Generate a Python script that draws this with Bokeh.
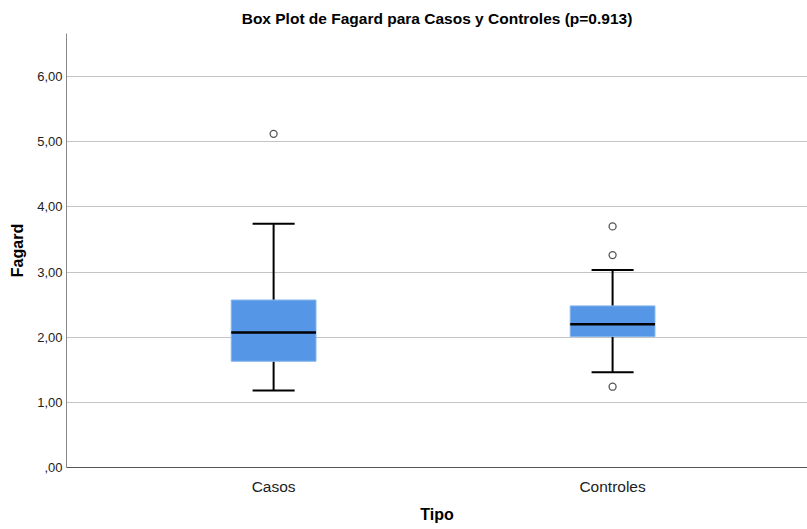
from bokeh.plotting import figure
from bokeh.models import Range1d, FixedTicker, ColumnDataSource
from bokeh.embed import file_html
from bokeh.resources import INLINE

# ---- data ----
categories = ["Casos", "Controles"]
q1 = [1.63, 2.01]
median = [2.07, 2.20]
q3 = [2.57, 2.48]
whisker_low = [1.18, 1.46]
whisker_high = [3.74, 3.03]
outlier_group = ["Casos", "Controles", "Controles", "Controles"]
outlier_value = [5.12, 3.70, 3.26, 1.24]
y_ticks = [0, 1, 2, 3, 4, 5, 6]
y_tick_labels = [",00", "1,00", "2,00", "3,00", "4,00", "5,00", "6,00"]
title_text = "Box Plot de Fagard para Casos y Controles (p=0.913)"
x_title = "Tipo"
y_title = "Fagard"

FONT = "Liberation Sans"
BOX_W = 0.25
CAP_W = 0.124

pos = [i + 1 for i in range(len(categories))]
src = ColumnDataSource(dict(
    x=pos, q1=q1, med=median, q3=q3, lo=whisker_low, hi=whisker_high,
    bl=[x - BOX_W / 2 for x in pos], br=[x + BOX_W / 2 for x in pos],
    cl=[x - CAP_W / 2 for x in pos], cr=[x + CAP_W / 2 for x in pos],
))
out_src = ColumnDataSource(dict(
    x=[categories.index(g) + 1 for g in outlier_group], y=outlier_value))

p = figure(width=807, height=529, output_backend="svg", toolbar_location=None,
           x_range=Range1d(0.389, 2.575), y_range=Range1d(0, 6.66),
           min_border_left=66, min_border_right=0, min_border_top=33,
           min_border_bottom=62)
p.outline_line_color = None
p.background_fill_color = "white"

p.title.text = title_text
p.title.align = "center"
p.title.text_font = FONT
p.title.text_font_size = "15.5px"
p.title.text_font_style = "bold"
p.title.text_color = "#000000"
p.title.standoff = 13

# whiskers
p.segment(x0="x", y0="q3", x1="x", y1="hi", source=src, line_color="black", line_width=2)
p.segment(x0="x", y0="lo", x1="x", y1="q1", source=src, line_color="black", line_width=2)
p.segment(x0="cl", y0="hi", x1="cr", y1="hi", source=src, line_color="black", line_width=2)
p.segment(x0="cl", y0="lo", x1="cr", y1="lo", source=src, line_color="black", line_width=2)
# boxes
p.vbar(x="x", width=BOX_W, bottom="q1", top="q3", source=src,
       fill_color="#5597e6", line_color="#86b5ee", line_width=1)
# medians
p.segment(x0="bl", y0="med", x1="br", y1="med", source=src, line_color="black", line_width=2.5)
# outliers
p.scatter(x="x", y="y", source=out_src, marker="circle", size=7,
          fill_color="white", line_color="#555555", line_width=1.3)

# axes
p.xgrid.visible = False
p.ygrid.ticker = FixedTicker(ticks=y_ticks[1:])
p.ygrid.grid_line_color = "#c4c4c4"
p.ygrid.grid_line_width = 1

p.yaxis.ticker = FixedTicker(ticks=y_ticks)
p.yaxis.major_label_overrides = {t: l for t, l in zip(y_ticks, y_tick_labels)}
p.yaxis.axis_label = y_title
p.yaxis.axis_label_text_font = FONT
p.yaxis.axis_label_text_font_size = "16px"
p.yaxis.axis_label_text_font_style = "bold"
p.yaxis.axis_label_text_color = "black"
p.yaxis.axis_label_standoff = 8
p.yaxis.major_label_text_font = FONT
p.yaxis.major_label_text_font_size = "13px"
p.yaxis.major_label_text_color = "#222222"
p.yaxis.major_label_standoff = 4
p.yaxis.axis_line_color = "#888888"

p.xaxis.ticker = FixedTicker(ticks=pos)
p.xaxis.major_label_overrides = {x: c for x, c in zip(pos, categories)}
p.xaxis.axis_label = x_title
p.xaxis.axis_label_text_font = FONT
p.xaxis.axis_label_text_font_size = "16px"
p.xaxis.axis_label_text_font_style = "bold"
p.xaxis.axis_label_text_color = "black"
p.xaxis.axis_label_standoff = 8
p.xaxis.major_label_text_font = FONT
p.xaxis.major_label_text_font_size = "15.5px"
p.xaxis.major_label_text_color = "#222222"
p.xaxis.major_label_standoff = 10
p.xaxis.axis_line_color = "#555555"

for ax in (p.xaxis, p.yaxis):
    ax.major_tick_in = 0
    ax.major_tick_out = 0
    ax.minor_tick_in = 0
    ax.minor_tick_out = 0

open("out.html", "w").write(file_html(p, INLINE))
